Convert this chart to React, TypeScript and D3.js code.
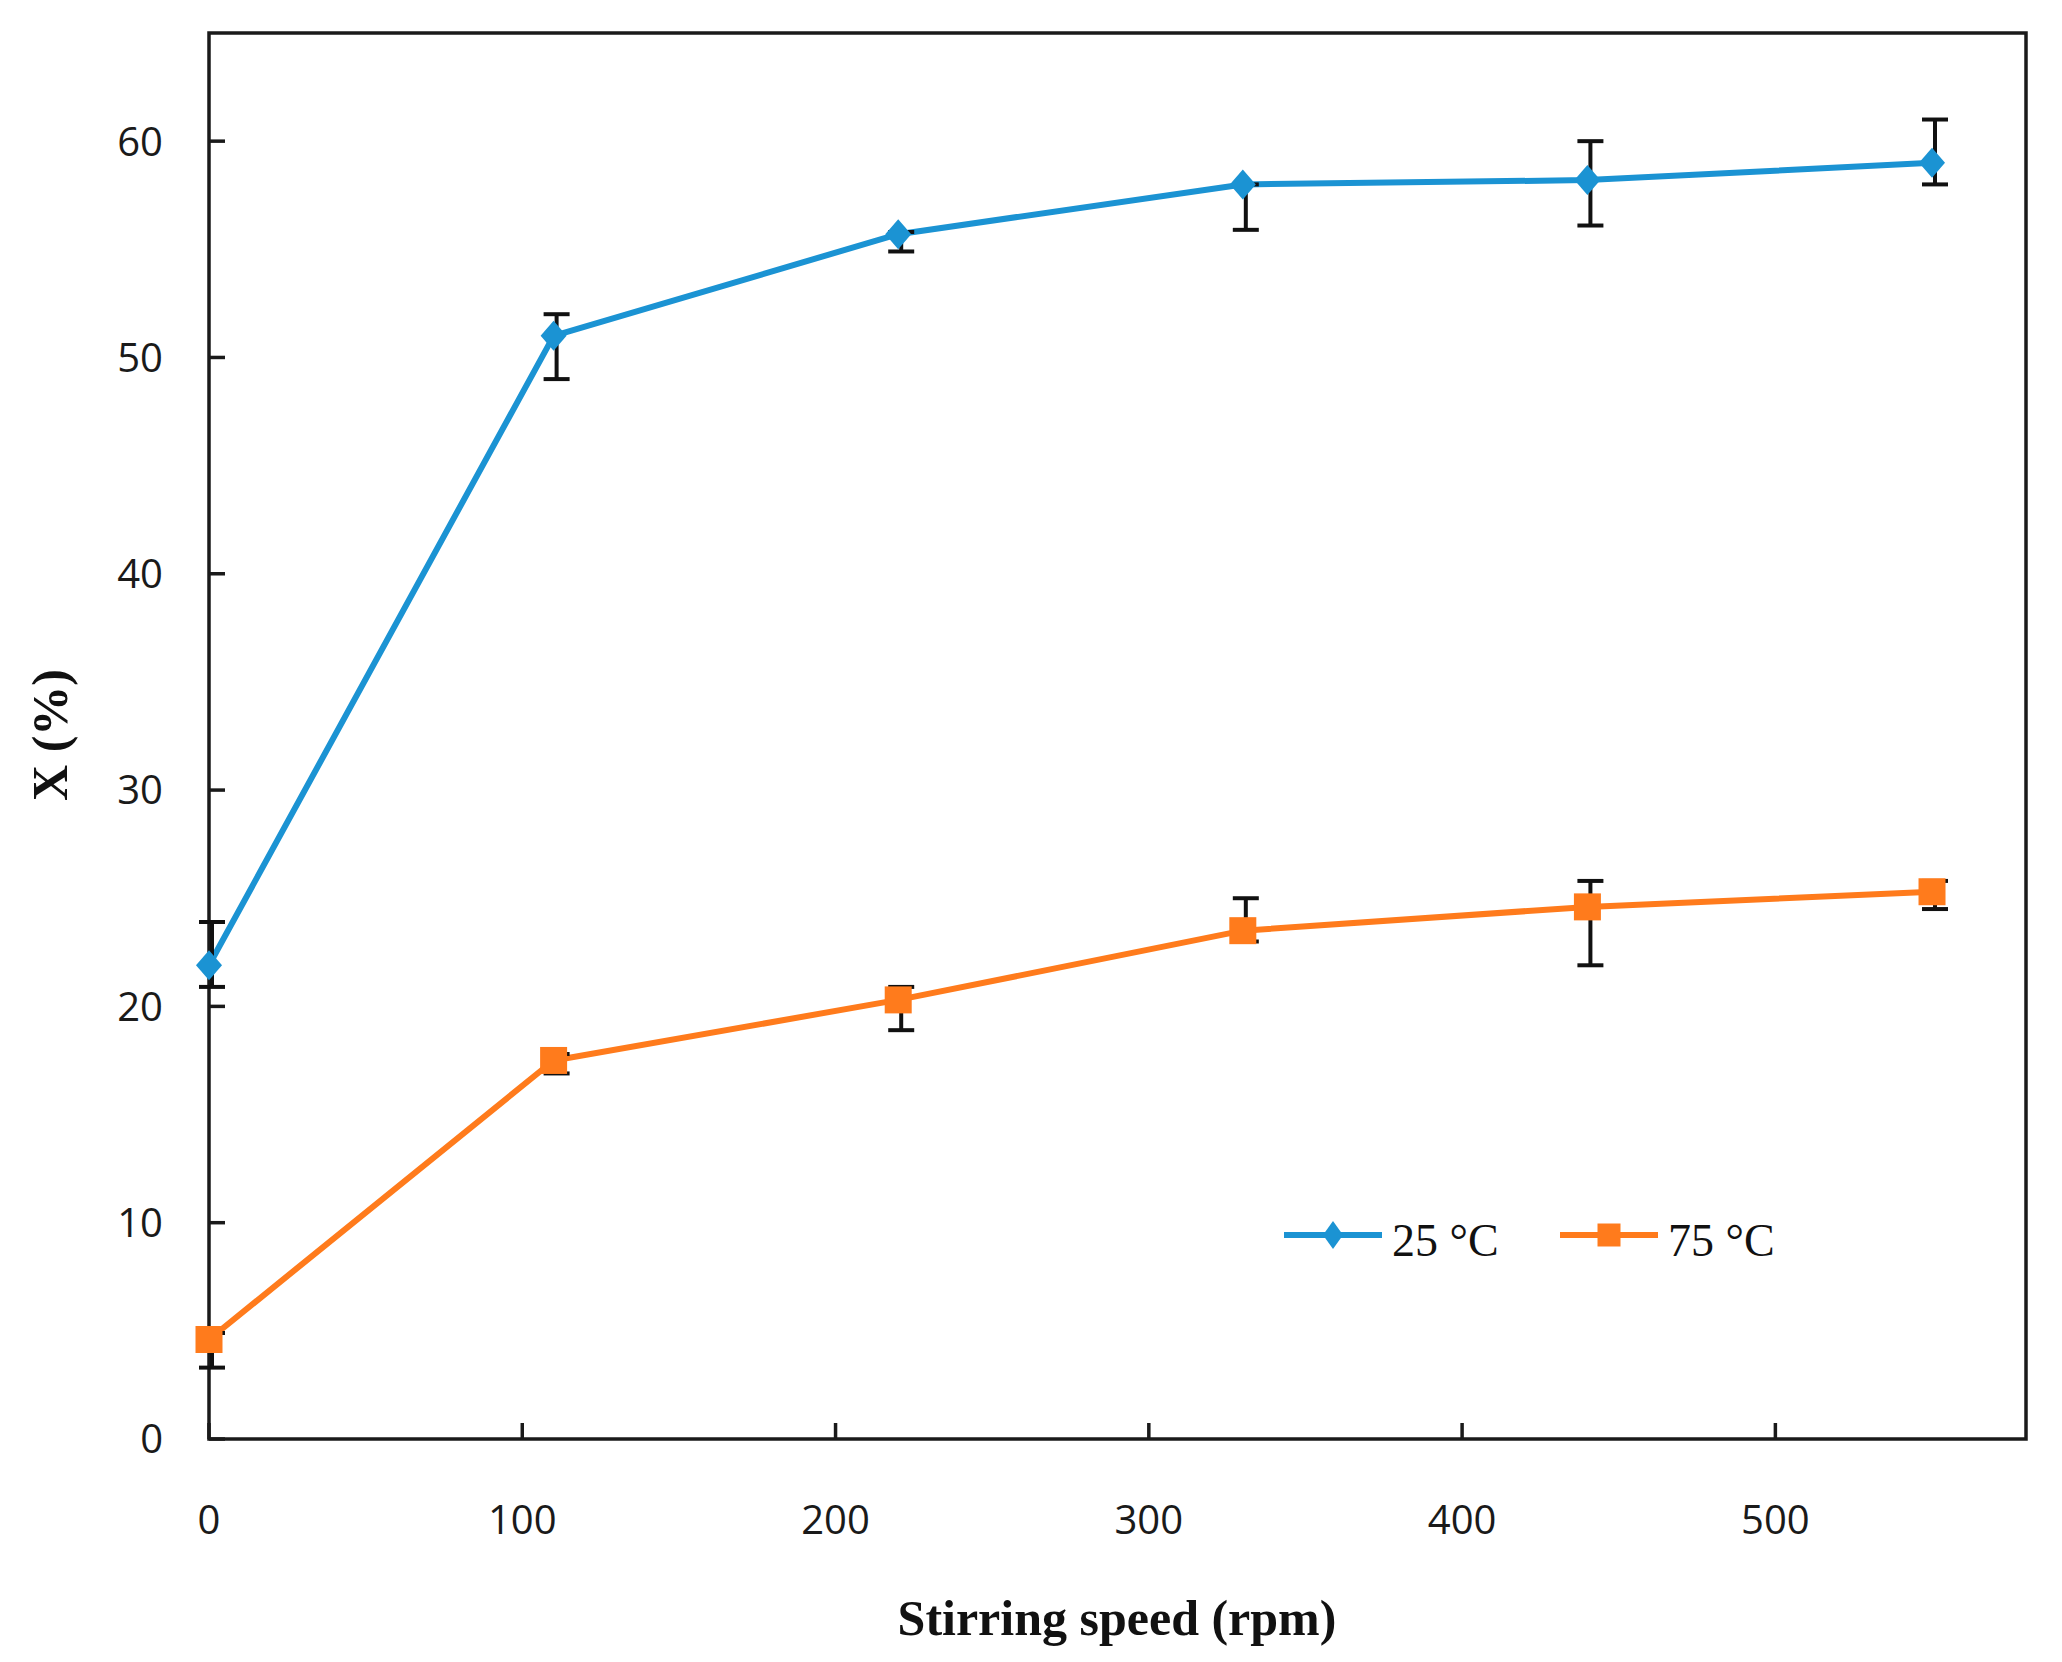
import React from 'react';
import * as d3 from 'd3';

// stirring speed (rpm) and conversion X (%)
const speeds = [0, 110, 220, 330, 440, 550];

const x25 = [21.9, 51.0, 55.7, 58.0, 58.2, 59.0];
const x25Upper = [23.9, 52.0, 55.8, 58.0, 60.0, 61.0];
const x25Lower = [20.9, 49.0, 54.9, 55.9, 56.1, 58.0];

const x75 = [4.6, 17.5, 20.3, 23.5, 24.6, 25.3];
const x75Upper = [4.9, 17.8, 20.9, 25.0, 25.8, 25.8];
const x75Lower = [3.3, 16.9, 18.9, 23.0, 21.9, 24.5];

const xTicks = [0, 100, 200, 300, 400, 500];
const yTicks = [0, 10, 20, 30, 40, 50, 60];

const seriesNames = ['25 °C', '75 °C'];

const BLUE = '#1b93d3';
const ORANGE = '#ff7b1c';
const INK = '#1a1a1a';

const width = 2062;
const height = 1662;
const margin = { top: 33, right: 36, bottom: 223, left: 209 };

// tall diamond, centred on 0,0
const diamond = (hw: number, hh: number) => `M0,${-hh}L${hw},0L0,${hh}L${-hw},0Z`;

const App: React.FC = () => {
  const x = d3.scaleLinear().domain([0, 580]).range([margin.left, width - margin.right]);
  const y = d3.scaleLinear().domain([0, 65]).range([height - margin.bottom, margin.top]);

  const line = d3.line<number>()
    .x((_, i) => x(speeds[i]))
    .y(d => y(d));

  const square = d3.symbol(d3.symbolSquare, 27 * 27)();
  const squareSmall = d3.symbol(d3.symbolSquare, 23 * 23)();

  const series = [
    { name: seriesNames[0], values: x25, upper: x25Upper, lower: x25Lower, color: BLUE, marker: diamond(13, 15), legendMarker: diamond(10, 14) },
    { name: seriesNames[1], values: x75, upper: x75Upper, lower: x75Lower, color: ORANGE, marker: square, legendMarker: squareSmall },
  ];

  const [x0, x1] = x.range();
  const [y0, y1] = y.range();
  const tick = 16;
  const cap = 13;
  const errOffset = 3;

  const legendX = [1284, 1560];
  const legendY = 1235;

  return (
    <svg width={width} height={height} style={{ position: 'absolute', left: 0, top: 0, background: '#fff' }}>
      {/* frame */}
      <rect x={x0} y={y1} width={x1 - x0} height={y0 - y1} fill="none" stroke={INK} strokeWidth={3.5} />

      {/* x ticks, inward */}
      {xTicks.map(t => (
        <g key={`xt${t}`}>
          <line x1={x(t)} x2={x(t)} y1={y0} y2={y0 - tick} stroke={INK} strokeWidth={3.5} />
          <text x={x(t)} y={1534} textAnchor="middle" fontFamily="'Open Sans', sans-serif" fontSize={40} fill={INK}>
            {t}
          </text>
        </g>
      ))}

      {/* y ticks, inward */}
      {yTicks.map(t => (
        <g key={`yt${t}`}>
          <line x1={x0} x2={x0 + tick} y1={y(t)} y2={y(t)} stroke={INK} strokeWidth={3.5} />
          <text x={163} y={y(t)} dy="0.36em" textAnchor="end" fontFamily="'Open Sans', sans-serif" fontSize={40} fill={INK}>
            {t}
          </text>
        </g>
      ))}

      {/* lines */}
      {series.map(s => (
        <path key={`l${s.name}`} d={line(s.values) ?? ''} fill="none" stroke={s.color} strokeWidth={6} strokeLinejoin="round" />
      ))}

      {/* error bars */}
      {series.map(s => (
        <g key={`e${s.name}`} stroke="#111" strokeWidth={4}>
          {speeds.map((sp, i) => {
            const cx = x(sp) + errOffset;
            return (
              <g key={sp}>
                <line x1={cx} x2={cx} y1={y(s.upper[i])} y2={y(s.lower[i])} />
                <line x1={cx - cap} x2={cx + cap} y1={y(s.upper[i])} y2={y(s.upper[i])} />
                <line x1={cx - cap} x2={cx + cap} y1={y(s.lower[i])} y2={y(s.lower[i])} />
              </g>
            );
          })}
        </g>
      ))}

      {/* markers */}
      {series.map(s => (
        <g key={`m${s.name}`} fill={s.color}>
          {s.values.map((v, i) => (
            <path key={i} d={s.marker} transform={`translate(${x(speeds[i])},${y(v)})`} />
          ))}
        </g>
      ))}

      {/* legend */}
      {series.map((s, i) => (
        <g key={`lg${s.name}`}>
          <line x1={legendX[i]} x2={legendX[i] + 98} y1={legendY} y2={legendY} stroke={s.color} strokeWidth={6} />
          <path d={s.legendMarker} transform={`translate(${legendX[i] + 49},${legendY})`} fill={s.color} />
          <text x={legendX[i] + 108} y={1256} fontFamily="'Liberation Serif', 'Times New Roman', serif" fontSize={46} fill="#111">
            {s.name}
          </text>
        </g>
      ))}

      {/* axis titles */}
      <text x={1117} y={1635} textAnchor="middle" fontFamily="'Liberation Serif', serif" fontWeight="bold" fontSize={50} fill="#111">
        Stirring speed (rpm)
      </text>
      <text transform="translate(67,735) rotate(-90)" textAnchor="middle" fontFamily="'Liberation Serif', serif" fontWeight="bold" fontSize={50} fill="#111">
        X (%)
      </text>
    </svg>
  );
};

export default App;
